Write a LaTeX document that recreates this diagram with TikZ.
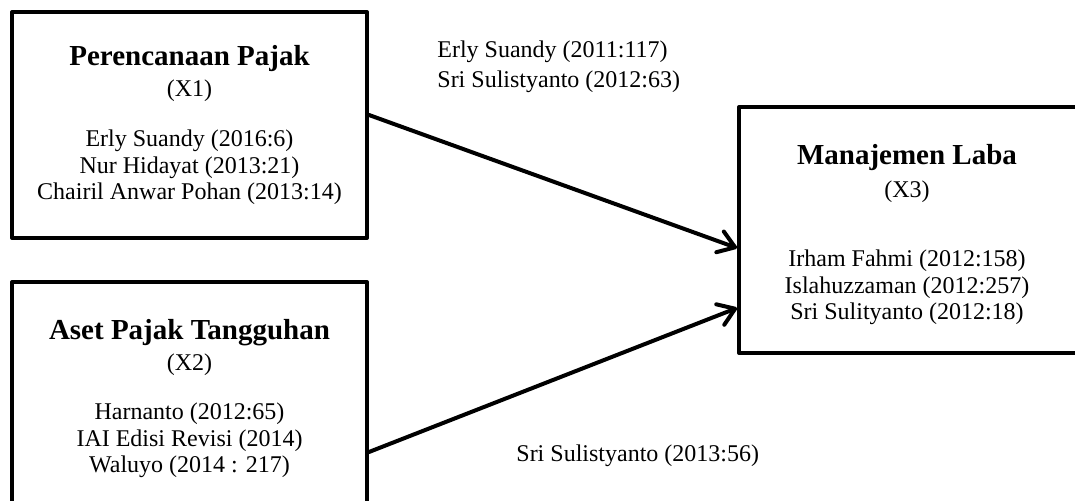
\documentclass[tikz,border=0pt]{standalone}
\usepackage{fontspec}
\setmainfont{Liberation Serif}
\usetikzlibrary{arrows.meta,calc}

\begin{document}
\begin{tikzpicture}[x=0.5pt, y=-0.5pt]
        \tikzset{
        var box/.style={rectangle,draw,line width=2pt,line join=round,inner sep=0},
        var title/.style={anchor=base,inner sep=0,font=\fontsize{14.5}{16}\selectfont\bfseries},
        var text/.style={anchor=base,inner sep=0,align=center,font=\fontsize{12}{13.3}\selectfont},
        ref label/.style={anchor=base west,inner sep=0,align=left,font=\fontsize{12}{15}\selectfont},
        ref arrow/.style={-{Straight Barb[length=8pt,width=11pt,line cap=round,line join=round]},line width=2pt,line cap=round}
        }
        \useasboundingbox (0,0) rectangle (1075,501);
        \clip (0,0) rectangle (1075,501);

        % variable boxes
        \node[var box,minimum width=177.5pt,minimum height=113pt] (x1) at (189.5,125) {};
        \node[var box,minimum width=177.5pt,minimum height=113pt] (x2) at (189.5,395) {};
        \node[var box,minimum width=170.5pt,minimum height=123pt] (x3) at (909.5,230) {};

        \node[var title] (x1 t) at (189.5,66) {Perencanaan Pajak};
        \node[var text] (x1 c) at (189.5,97) {(X1)};
        \node[var text] (x1 r) at (189.5,200) {Erly Suandy (2016:6)\\Nur Hidayat (2013:21)\\Chairil Anwar Pohan (2013:14)};

        \node[var title] (x2 t) at (189.5,340) {Aset Pajak Tangguhan};
        \node[var text] (x2 c) at (189.5,371) {(X2)};
        \node[var text] (x2 r) at (189.5,473) {Harnanto (2012:65)\\IAI Edisi Revisi (2014)\\Waluyo (2014 : 217)};

        \node[var title] (x3 t) at (907,165) {Manajemen Laba};
        \node[var text] (x3 c) at (907,198) {(X3)};
        \node[var text] (x3 r) at (907,320) {Irham Fahmi (2012:158)\\Islahuzzaman (2012:257)\\Sri Sulityanto (2012:18)};

        % arrows and their sources
        \draw[ref arrow] ($(x1.east)+(0,-10)$) -- ($(x3.west)+(0,18)$);
        \draw[ref arrow] ($(x2.east)+(0,57)$) -- ($(x3.west)+(0,78)$);

        \node[ref label] (l1) at (437,88) {Erly Suandy (2011:117)\\Sri Sulistyanto (2012:63)};
        \node[ref label] (l2) at (516,462) {Sri Sulistyanto (2013:56)};
    \end{tikzpicture}
\end{document}
